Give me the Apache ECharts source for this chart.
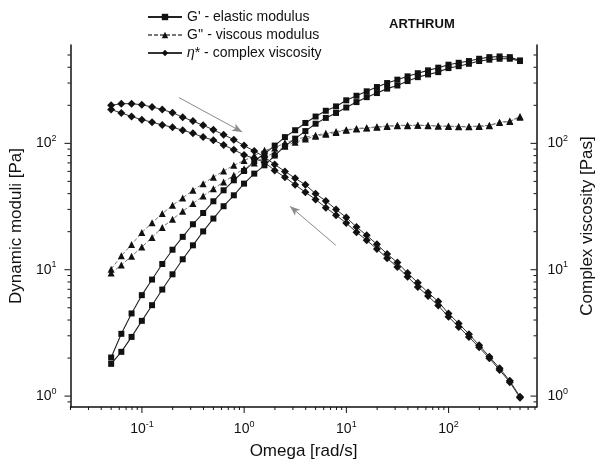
<!DOCTYPE html>
<html><head><meta charset="utf-8">
<script src="https://cdn.jsdelivr.net/npm/echarts@6/dist/echarts.min.js"></script>
<style>html,body{margin:0;padding:0;background:#fff}#c{width:604px;height:468px}</style>
</head><body><div id="c"></div>
<script>
// ---- data ----
const omega = [0.05, 0.0629, 0.0792, 0.0998, 0.1256, 0.1581, 0.1991, 0.2506, 0.3155, 0.3972,
  0.5, 0.6295, 0.7924, 0.9976, 1.256, 1.581, 1.991, 2.506, 3.155, 3.972,
  5.0, 6.295, 7.924, 9.976, 12.56, 15.81, 19.91, 25.06, 31.55, 39.72,
  50.0, 62.95, 79.24, 99.76, 125.6, 158.1, 199.1, 250.6, 315.5, 397.2, 500];
const gPrime1 = [2.02, 3.11, 4.51, 6.29, 8.36, 11.1, 14.4, 18.2, 22.9, 28.1, 34.8, 42.5, 51, 60.4, 72.4, 82.8, 96, 112, 127, 145, 163, 181, 196, 219, 238, 258, 279, 300, 319, 339, 359, 378, 397, 419, 434, 448, 467, 481, 487, 481, 453];
const gPrime2 = [1.80, 2.24, 2.94, 3.94, 5.24, 6.97, 9.2, 12.1, 15.6, 20.1, 25.4, 31.8, 38.8, 48, 57.6, 67, 80, 95, 109, 125, 143, 159, 174, 192, 212, 232, 250, 271, 287, 311, 334, 351, 366, 394, 408, 426, 448, 459, 467, 467, 448];
const gDouble1 = [10.1, 12.9, 15.8, 19.7, 23.5, 27.8, 32.4, 37, 42.5, 48, 54, 60.4, 67, 73, 80, 88, 92, 101, 107, 112, 116, 120, 124, 128, 131, 133, 135, 137, 139, 139, 139, 139, 137, 137, 136, 136, 137, 139, 147, 150, 163];
const gDouble2 = [9.4, 10.9, 12.8, 15.1, 18, 21.6, 25.1, 29, 33.4, 38.3, 43.8, 49.4, 55.8, 63, 70, 78, 84, 95, 102, 108, 114, 118, 122, 127, 130, 132, 134, 136, 138, 138, 139, 138, 137, 136, 135, 135, 136, 138, 146, 149, 161];
const eta1 = [200, 206, 206, 202, 194, 185, 175, 161, 150, 139, 128, 117, 107, 96, 87, 78, 68, 60, 53, 47, 40, 35, 30, 25.9, 21.8, 18.7, 15.9, 13.3, 11.4, 9.4, 7.9, 6.6, 5.6, 4.5, 3.76, 3.09, 2.53, 2.05, 1.66, 1.32, 0.99];
const eta2 = [185, 174, 163, 154, 147, 140, 134, 127, 120, 112, 106, 97, 89, 81, 76, 71, 61, 54, 47, 41, 36, 31, 27, 23.4, 19.8, 17.1, 14.6, 12.3, 10.5, 8.8, 7.3, 6.2, 5.2, 4.24, 3.53, 2.94, 2.43, 1.99, 1.61, 1.29, 0.97];

const seriesNames = ["G' - elastic modulus", "G'' - viscous modulus", "η* - complex viscosity"];
const xMajorTicks = [0.1, 1, 10, 100];
const xMinorTicks = [0.02,0.03,0.04,0.05,0.06,0.07,0.08,0.09, 0.2,0.3,0.4,0.5,0.6,0.7,0.8,0.9,
  2,3,4,5,6,7,8,9, 20,30,40,50,60,70,80,90, 200,300,400,500,600,700];
const yMajorTicks = [1, 10, 100];
const yMinorTicks = [0.9, 2,3,4,5,6,7,8,9, 20,30,40,50,60,70,80,90, 200,300,400,500];
// sweep-direction arrows [from, to] in data coordinates (omega, value)
const arrowUp = [[0.231, 230], [0.957, 123]];
const arrowDown = [[7.89, 15.6], [2.81, 31.8]];

const X_MIN = 0.02, X_MAX = 725, Y_MIN = 0.82, Y_MAX = 600;
const FONT = "'Liberation Sans', Arial, sans-serif";

function pairs(xs, ys) { return xs.map((x, i) => [x, ys[i]]); }
function powLabel(v) {
  const e = Math.log10(v), r = Math.round(e);
  if (Math.abs(e - r) > 1e-6) return '';
  return '{b|10}{s|' + r + '}';
}
const labelRich = {
  b: { fontSize: 14, fontFamily: FONT, color: '#111' },
  s: { fontSize: 9, fontFamily: FONT, color: '#111', padding: [0, 0, 10, 0] }
};
function tickData(major, minor) {
  return major.map(v => [v, 6]).concat(minor.map(v => [v, 3]));
}
function arrowLine(a) {
  return [{ coord: a[0], symbol: 'none' }, { coord: a[1], symbol: 'arrow', symbolSize: [6, 10] }];
}

const chart = echarts.init(document.getElementById('c'), null, { renderer: 'canvas' });
const lineBase = { type: 'line', smooth: false, animation: false, z: 3 };
chart.setOption({
  backgroundColor: '#fff',
  animation: false,
  title: { text: 'ARTHRUM', left: 384, top: 13, textStyle: { fontFamily: FONT, fontSize: 13, fontWeight: 'bold', color: '#111' } },
  legend: {
    data: seriesNames, orient: 'vertical', left: 142, top: 5, itemGap: 4,
    itemWidth: 34, itemHeight: 8,
    textStyle: { fontFamily: FONT, fontSize: 14, color: '#111',
      rich: { i: { fontStyle: 'italic', fontFamily: FONT, fontSize: 14, color: '#111' } } },
    formatter: n => n.charAt(0) === 'η' ? '{i|η}' + n.slice(1) : n
  },
  grid: { left: 65, right: 51, top: 45, bottom: 61 },
  xAxis: {
    type: 'log', min: X_MIN, max: X_MAX, logBase: 10,
    name: 'Omega [rad/s]', nameLocation: 'middle', nameGap: 36,
    nameTextStyle: { fontFamily: FONT, fontSize: 17, color: '#111' },
    axisLine: { show: true, lineStyle: { color: '#111', width: 1.5 } },
    axisTick: { show: false }, splitLine: { show: false }, minorTick: { show: false },
    axisLabel: { interval: 0, margin: 13, formatter: powLabel, rich: labelRich, showMinLabel: true, showMaxLabel: true }
  },
  yAxis: [{
    type: 'log', min: Y_MIN, max: Y_MAX, logBase: 10, position: 'left',
    name: 'Dynamic moduli [Pa]', nameLocation: 'middle', nameGap: 38,
    nameTextStyle: { fontFamily: FONT, fontSize: 17, color: '#111' },
    axisLine: { show: true, lineStyle: { color: '#111', width: 1.5 } },
    axisTick: { show: false }, splitLine: { show: false },
    axisLabel: { interval: 0, margin: 14, formatter: powLabel, rich: labelRich }
  }, {
    type: 'log', min: Y_MIN, max: Y_MAX, logBase: 10, position: 'right',
    name: 'Complex viscosity [Pas]', nameLocation: 'middle', nameGap: 36,
    nameTextStyle: { fontFamily: FONT, fontSize: 17, color: '#111' },
    axisLine: { show: true, lineStyle: { color: '#111', width: 1.5 } },
    axisTick: { show: false }, splitLine: { show: false },
    axisLabel: { interval: 0, margin: 11, formatter: powLabel, rich: labelRich }
  }],
  series: [
    Object.assign({}, lineBase, { name: seriesNames[0], data: pairs(omega, gPrime1), yAxisIndex: 0,
      symbol: 'rect', symbolSize: 6, itemStyle: { color: '#111' }, lineStyle: { color: '#222', width: 1.1 },
      markLine: { silent: true, animation: false, symbol: ['none', 'arrow'], symbolSize: 10,
        label: { show: false }, lineStyle: { color: '#8a8a8a', width: 1, type: 'solid' },
        itemStyle: { color: '#8a8a8a' }, emphasis: { disabled: true },
        data: [arrowLine(arrowUp), arrowLine(arrowDown)] } }),
    Object.assign({}, lineBase, { name: seriesNames[0], data: pairs(omega, gPrime2), yAxisIndex: 0,
      symbol: 'rect', symbolSize: 6, itemStyle: { color: '#111' }, lineStyle: { color: '#222', width: 1.1 } }),
    Object.assign({}, lineBase, { name: seriesNames[1], data: pairs(omega, gDouble1), yAxisIndex: 0,
      symbol: 'triangle', symbolSize: 7, itemStyle: { color: '#111' }, lineStyle: { color: '#777', width: 1, type: [4, 2] } }),
    Object.assign({}, lineBase, { name: seriesNames[1], data: pairs(omega, gDouble2), yAxisIndex: 0,
      symbol: 'triangle', symbolSize: 7, itemStyle: { color: '#111' }, lineStyle: { color: '#777', width: 1, type: [4, 2] } }),
    Object.assign({}, lineBase, { name: seriesNames[2], data: pairs(omega, eta1), yAxisIndex: 1,
      symbol: 'diamond', symbolSize: 8, itemStyle: { color: '#111' }, lineStyle: { color: '#333', width: 1 } }),
    Object.assign({}, lineBase, { name: seriesNames[2], data: pairs(omega, eta2), yAxisIndex: 1,
      symbol: 'diamond', symbolSize: 8, itemStyle: { color: '#111' }, lineStyle: { color: '#333', width: 1 } }),
    // axis ticks (log major/minor) drawn through the axes' own scales
    { type: 'custom', name: 'xticks', silent: true, clip: false, yAxisIndex: 0, z: 5,
      data: tickData(xMajorTicks, xMinorTicks),
      renderItem: (params, api) => {
        const p = api.coord([api.value(0), Y_MIN]); const len = api.value(1);
        return { type: 'line', shape: { x1: p[0], y1: p[1], x2: p[0], y2: p[1] + len }, style: { stroke: '#111', lineWidth: 1 } };
      } },
    { type: 'custom', name: 'ylticks', silent: true, clip: false, yAxisIndex: 0, z: 5,
      data: tickData(yMajorTicks, yMinorTicks).map(d => [X_MIN, d[0], d[1]]),
      renderItem: (params, api) => {
        const p = api.coord([X_MIN, api.value(1)]); const len = api.value(2);
        return { type: 'line', shape: { x1: p[0] - len, y1: p[1], x2: p[0], y2: p[1] }, style: { stroke: '#111', lineWidth: 1 } };
      } },
    { type: 'custom', name: 'yrticks', silent: true, clip: false, yAxisIndex: 1, z: 5,
      data: tickData(yMajorTicks, yMinorTicks).map(d => [X_MAX, d[0], d[1]]),
      renderItem: (params, api) => {
        const p = api.coord([X_MAX, api.value(1)]); const len = api.value(2);
        return { type: 'line', shape: { x1: p[0] - len, y1: p[1], x2: p[0], y2: p[1] }, style: { stroke: '#111', lineWidth: 1 } };
      } }
  ]
});
</script></body></html>
